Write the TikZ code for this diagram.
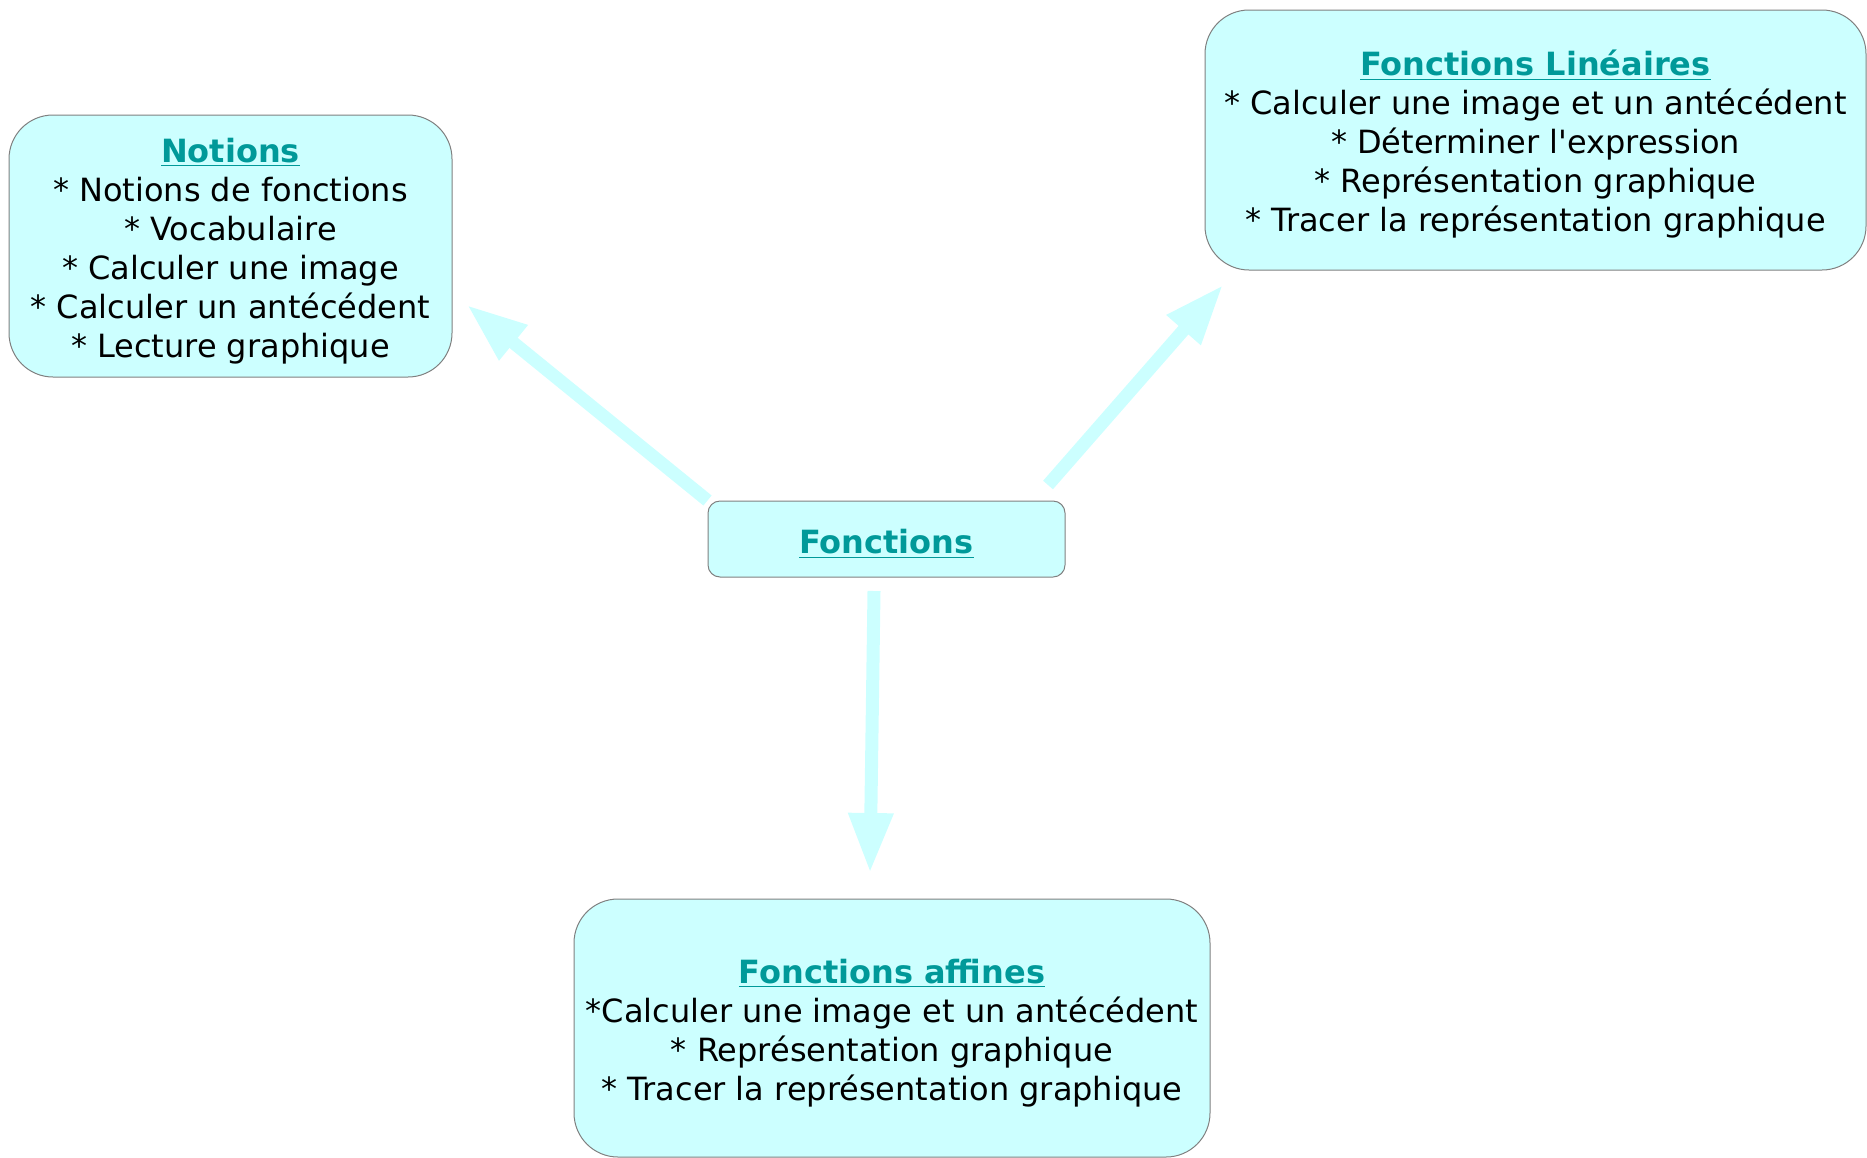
\documentclass[tikz,border=0pt]{standalone}
\usepackage{fontspec}
\setmainfont{DejaVu Sans}
\usepackage{xcolor}
\usetikzlibrary{arrows.meta}
\definecolor{boxfill}{HTML}{CCFFFF}
\definecolor{titlecol}{HTML}{009999}
\newcommand{\boxtitle}[1]{\rule{0pt}{17pt}{\color{titlecol}\bfseries\underline{#1}}}

\begin{document}
\begin{tikzpicture}[x=0.5pt, y=-0.5pt,
	topic/.style={rectangle, draw=gray, line width=0.5pt, rounded corners=22pt, fill=boxfill, align=center, inner sep=0pt, font=\fontsize{16}{19.5}\selectfont},
	root/.style={topic, rounded corners=6pt},
	link/.style={-{Triangle[length=30pt, width=21pt]}, draw=boxfill, line width=6.5pt}
]
	\useasboundingbox (0,0) rectangle (1867,1157);

	% Nodes
	\node[root, minimum width=178.5pt, minimum height=38pt] (fonc) at (886.5,539) {\boxtitle{Fonctions}};
	\node[topic, minimum width=221.5pt, minimum height=131pt] (notions) at (230.5,246) {\boxtitle{Notions}\\
		* Notions de fonctions\\
		* Vocabulaire\\
		* Calculer une image\\
		* Calculer un antécédent\\
		* Lecture graphique};
	\node[topic, minimum width=330.5pt, minimum height=130pt] (lin) at (1535.5,140) {\boxtitle{Fonctions Linéaires}\\
		* Calculer une image et un antécédent\\
		* Déterminer l\textquotesingle expression\\
		* Représentation graphique\\
		* Tracer la représentation graphique};
	\node[topic, minimum width=318pt, minimum height=129pt] (aff) at (892,1028) {\boxtitle{Fonctions affines}\\
		*Calculer une image et un antécédent\\
		* Représentation graphique\\
		* Tracer la représentation graphique};

	% Arrow ends
	\coordinate (tipnot) at (467,305);
	\coordinate (startlin) at (1048,485);
	\coordinate (tiplin) at (1223,285);
	\coordinate (startaff) at (874,591);
	\coordinate (tipaff) at (870,873);

	% Arrows
	\draw[link] (fonc.north west) -- (tipnot);
	\draw[link] (startlin) -- (tiplin);
	\draw[link] (startaff) -- (tipaff);
\end{tikzpicture}
\end{document}
